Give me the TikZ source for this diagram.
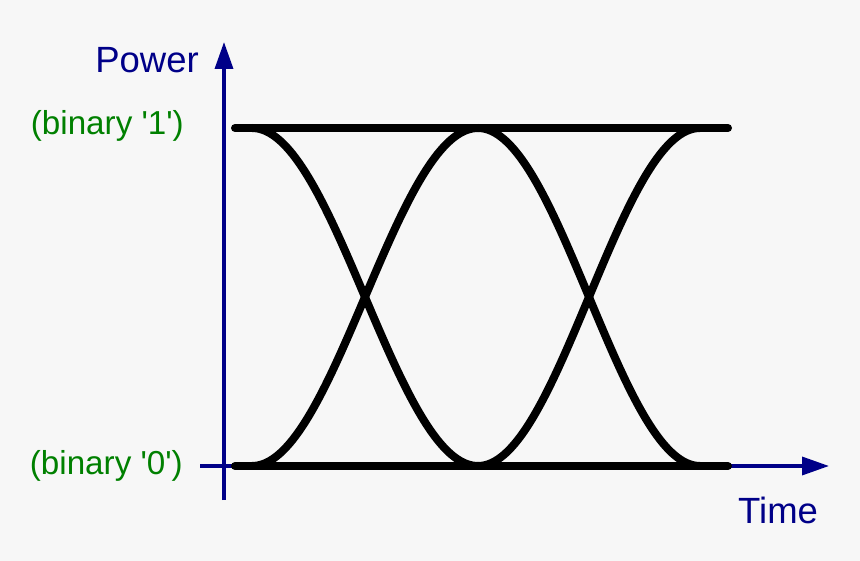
\documentclass[tikz,border=0pt]{standalone}
\usepackage{fontspec}
\setmainfont{Liberation Sans}
\usetikzlibrary{arrows.meta}
\definecolor{bgc}{RGB}{247,247,247}
\definecolor{axisblue}{RGB}{0,0,136}
\definecolor{lblgreen}{RGB}{0,128,0}
\begin{document}
\begin{tikzpicture}[x=1pt,y=-1pt,
  axisline/.style={draw=axisblue, line width=3.5pt, -{Triangle[length=27pt,width=18pt]}},
  levelline/.style={draw=black, line width=8pt, line cap=round},
  eyecurve/.style={draw=black, line width=8pt, line cap=round},
  axislabel/.style={text=axisblue, inner sep=0pt, font=\fontsize{36.5}{40}\selectfont},
  levellabel/.style={text=lblgreen, inner sep=0pt, font=\fontsize{33.2}{38}\selectfont}]
  \fill[bgc] (0,0) rectangle (860,561);
  \useasboundingbox (0,0) rectangle (860,561);
  % axes
  \coordinate (yb) at (224,500);
  \coordinate (yt) at (224,42);
  \coordinate (xl) at (200,466);
  \coordinate (xr) at (829,466);
  \draw[axisline] (yb) -- (yt);
  \draw[axisline] (xl) -- (xr);
  % levels
  \coordinate (t1) at (235,128);
  \coordinate (t2) at (728,128);
  \coordinate (b1) at (235,466);
  \coordinate (b2) at (728,466);
  \draw[levelline] (t1) -- (t2);
  \draw[levelline] (b1) -- (b2);
  % eye transitions
  \draw[eyecurve] plot[domain=0:180, samples=90, smooth] ({252+1.25556*\x},{297-169*cos(\x)});
  \draw[eyecurve] plot[domain=0:180, samples=90, smooth] ({252+1.25556*\x},{297+169*cos(\x)});
  \draw[eyecurve] plot[domain=0:180, samples=90, smooth] ({478+1.23333*\x},{297-169*cos(\x)});
  \draw[eyecurve] plot[domain=0:180, samples=90, smooth] ({478+1.23333*\x},{297+169*cos(\x)});
  % labels
  \node[axislabel, anchor=base east] (power) at (199,73) {Power};
  \node[axislabel, anchor=base west] (time) at (738,523) {Time};
  \node[levellabel, anchor=base east] (one) at (184,135) {(binary \textquotesingle1\textquotesingle)};
  \node[levellabel, anchor=base east] (zero) at (183,475) {(binary \textquotesingle0\textquotesingle)};
\end{tikzpicture}
\end{document}
